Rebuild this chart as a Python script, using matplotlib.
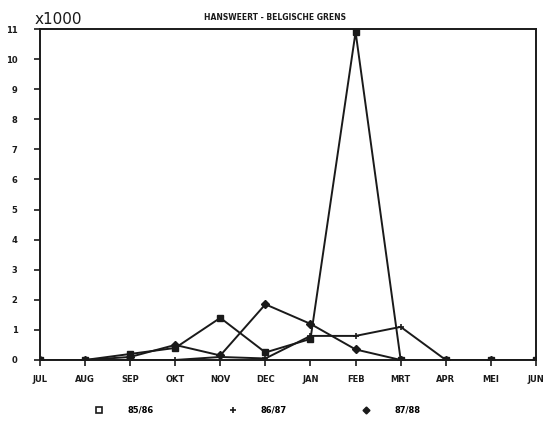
import numpy as np
import matplotlib.pyplot as plt
from matplotlib.lines import Line2D

months = ['JUL', 'AUG', 'SEP', 'OKT', 'NOV', 'DEC', 'JAN', 'FEB', 'MRT', 'APR', 'MEI', 'JUN']
s8586 = [0, 0, 0.2, 0.4, 1.4, 0.25, 0.7, 10.9, 0, 0, 0, 0]
s8687 = [0, 0, 0, 0, 0.1, 0.05, 0.8, 0.8, 1.1, 0, 0, 0]
s8788 = [0, 0, 0.1, 0.5, 0.15, 1.85, 1.2, 0.35, 0, 0, 0, 0]
labels = ['85/86', '86/87', '87/88']

ink = '#1a1a1a'
fig = plt.figure(figsize=(5.54, 4.24), dpi=100)
ax = fig.add_axes([0.072, 0.151, 0.8955, 0.7806])

x = np.arange(len(months))
ax.plot(x, s8586, color=ink, lw=1.4, marker='s', ms=4, mfc=ink, mec=ink)
ax.plot(x, s8687, color=ink, lw=1.4, marker='+', ms=5, mew=1.2)
ax.plot(x, s8788, color=ink, lw=1.4, marker='D', ms=4, mfc=ink, mec=ink)

ax.set_xlim(0, 11)
ax.set_ylim(0, 11)
ax.set_xticks(x)
ax.set_xticklabels(months)
ax.set_yticks(range(0, 12))
ax.tick_params(direction='out', length=4, width=1.2, colors=ink, labelsize=6, pad=7)
ax.tick_params(axis='y', pad=12)
for lab in ax.get_xticklabels() + ax.get_yticklabels():
    lab.set_fontweight('bold')
for sp in ax.spines.values():
    sp.set_linewidth(1.4)
    sp.set_color(ink)

fig.text(0.063, 0.955, 'x1000', fontsize=11, color=ink, ha='left', va='center')
fig.text(0.497, 0.958, 'HANSWEERT - BELGISCHE GRENS', fontsize=5.5, fontweight='bold',
         color=ink, ha='center', va='center')

handles = [
    Line2D([], [], ls='none', marker='s', ms=4, mfc='white', mec=ink, mew=1.2),
    Line2D([], [], ls='none', marker='+', ms=5, mec=ink, mew=1.2),
    Line2D([], [], ls='none', marker='D', ms=3.5, mfc=ink, mec=ink),
]
leg = fig.legend(handles, labels, loc='center', bbox_to_anchor=(0.465, 0.033), ncol=3,
                 frameon=False, handlelength=1, handletextpad=2.9, columnspacing=9.0,
                 prop={'size': 6, 'weight': 'bold'})

fig.savefig('out.png', dpi=100)
